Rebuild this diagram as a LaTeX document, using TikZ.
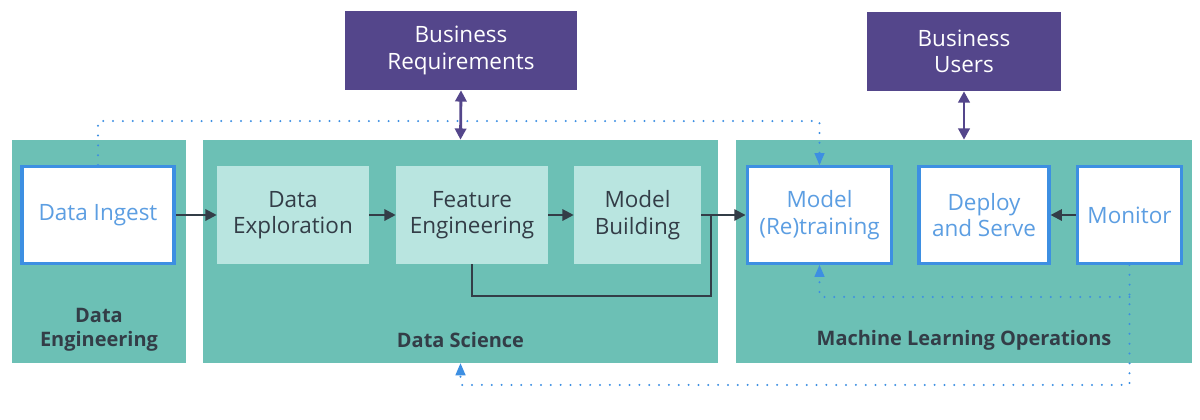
\documentclass[tikz,border=0pt]{standalone}
\usepackage{fontspec}
\setmainfont{Open Sans}
\usepackage{xcolor}
\definecolor{mlteal}{RGB}{108,192,181}
\definecolor{mlmint}{RGB}{185,229,224}
\definecolor{mlpurple}{RGB}{84,70,139}
\definecolor{mlblue}{RGB}{61,143,226}
\definecolor{mltext}{RGB}{92,158,226}
\definecolor{mldark}{RGB}{51,61,71}
\usetikzlibrary{arrows.meta,positioning}

\begin{document}
\begin{tikzpicture}[every node/.style={font=\fontsize{16}{18.8}\selectfont,align=center,inner sep=0pt},
    panel/.style={fill=mlteal,minimum height=5.575cm},
    stage/.style={fill=mlmint,text=mldark,minimum height=2.45cm},
    opsbox/.style={draw=mlblue,line width=2.2pt,fill=white,text=mltext,minimum height=2.42cm},
    bizbox/.style={fill=mlpurple,text=white,minimum height=1.975cm},
    paneltitle/.style={font=\fontsize{14.2}{17}\selectfont\bfseries,text=mldark},
    flow/.style={draw=mldark,line width=1.5pt,-{Triangle[length=8pt,width=8pt]}},
    biz/.style={draw=mlpurple,line width=2pt,{Triangle[length=8pt,width=8pt]}-{Triangle[length=8pt,width=8pt]}},
    loop/.style={draw=mlblue,line width=1.6pt,line cap=round,dash pattern=on 0pt off 7pt}]
  \useasboundingbox (0,0) rectangle (30,-10.475);

  %% Panels
  \node[panel,minimum width=4.35cm]  (de) at ( 2.475,-6.2875) {};
  \node[panel,minimum width=12.875cm] (ds) at (11.5125,-6.2875) {};
  \node[panel,minimum width=11.4cm]  (ml) at (24.1,-6.2875) {};
  \node[paneltitle] at (2.475,-8.25) {Data\\Engineering};
  \node[paneltitle] at (11.5125,-8.5) {Data Science};
  \node[paneltitle] at (24.1,-8.5) {Machine Learning Operations};

  %% Stages
  \node[opsbox,minimum width=3.8cm]  (ingest)  at ( 2.45,-5.375) {Data Ingest};
  \node[stage,minimum width=3.8cm]   (explore) at ( 7.325,-5.375) {Data\\Exploration};
  \node[stage,minimum width=3.8cm]   (feature) at (11.8,-5.375) {Feature\\Engineering};
  \node[stage,minimum width=3.175cm] (build)   at (15.9375,-5.375) {Model\\Building};
  \node[opsbox,minimum width=3.62cm] (retrain) at (20.4875,-5.375) {Model\\(Re)training};
  \node[opsbox,minimum width=3.25cm] (deploy)  at (24.6,-5.375) {Deploy\\and Serve};
  \node[opsbox,minimum width=2.62cm] (monitor) at (28.2375,-5.375) {Monitor};

  %% Business
  \node[bizbox,minimum width=5.8cm]  (breq)  at (11.525,-1.2625) {Business\\Requirements};
  \node[bizbox,minimum width=4.85cm] (busers) at (24.1,-1.2875) {Business\\Users};

  %% Flow
  \coordinate (join) at (17.775,-5.375);
  \draw[flow] (ingest) -- (explore);
  \draw[flow] (explore) -- (feature);
  \draw[flow] (feature) -- (build);
  \draw[flow] (build) -- (retrain);
  \draw[flow] (monitor) -- (deploy);
  \draw[draw=mldark,line width=1.5pt] (feature.south) -- ++(0,-0.8) -| (join);
  \draw[biz] (breq.south) -- (ds.north);
  \draw[biz] (busers.south) -- (ml.north);

  %% Feedback loops
  \path (monitor.south) ++(0,-0.8) coordinate (mon-split);
  \draw[loop] (ingest.north) -- ++(0,1.1) -| (retrain.north);
  \draw[loop] (monitor.south) -- ++(0,-3) -| (ds.south);
  \draw[loop] (mon-split) -| (retrain.south);
  \fill[mlblue] (retrain.north) -- ++(-0.13,0.3) -- ++(0.26,0) -- cycle;
  \fill[mlblue] (retrain.south) -- ++(-0.13,-0.3) -- ++(0.26,0) -- cycle;
  \fill[mlblue] (ds.south) -- ++(-0.13,-0.3) -- ++(0.26,0) -- cycle;
\end{tikzpicture}
\end{document}
